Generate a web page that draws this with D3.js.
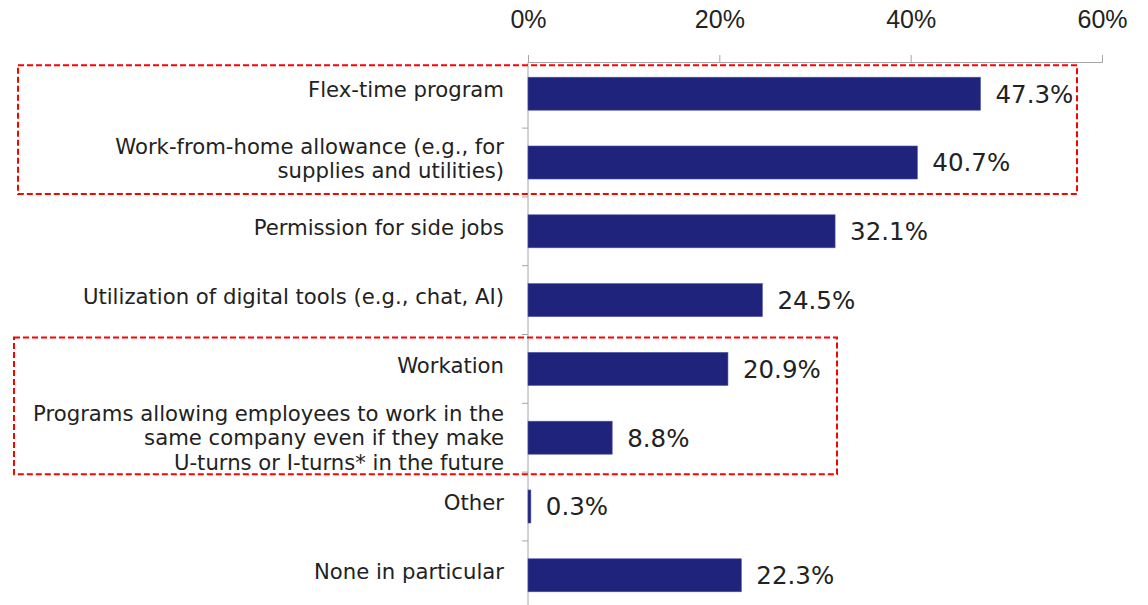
<!DOCTYPE html>
<html>
<head>
<meta charset="utf-8">
<script src="https://cdn.jsdelivr.net/npm/d3@7"></script>
<style>
  body { margin: 0; background: #fff; }
  svg { font-family: "DejaVu Sans", "Noto Sans", sans-serif; }
</style>
</head>
<body>
<div id="chart"></div>
<script>
// Data
const categories = [
  "Flex-time program",
  "Work-from-home allowance (e.g., for|supplies and utilities)",
  "Permission for side jobs",
  "Utilization of digital tools (e.g., chat, AI)",
  "Workation",
  "Programs allowing employees to work in the|same company even if they make|U-turns or I-turns* in the future",
  "Other",
  "None in particular"
];
const values = [47.3, 40.7, 32.1, 24.5, 20.9, 8.8, 0.3, 22.3];
const tickValues = [0, 20, 40, 60];
// highlighted groups (first and last row index)
const highlightGroups = [[0, 1], [4, 5]];

const width = 1148, height = 605;
const margin = { top: 62, right: 46, left: 528 };

const svg = d3.select("#chart")
  .append("svg")
  .attr("width", width)
  .attr("height", height);

const x = d3.scaleLinear()
  .domain([0, 60])
  .range([margin.left, width - margin.right]);

const y = d3.scaleBand()
  .domain(d3.range(categories.length))
  .range([60, 609])
  .paddingInner(0.52)
  .paddingOuter(0.25);

// top axis
const xAxis = svg.append("g")
  .attr("transform", `translate(0,${margin.top})`)
  .call(d3.axisTop(x).tickValues(tickValues).tickSize(7).tickPadding(27).tickFormat(d => d + "%"));
xAxis.select(".domain").attr("stroke", "#a6a6a6");
xAxis.selectAll(".tick line").attr("stroke", "#a6a6a6");
xAxis.selectAll("text").attr("fill", "#222").style("font-size", "25px");

// vertical category axis, ticks between bars
const step = y.step();
const gap = step * y.paddingInner() / 2;
svg.append("line")
  .attr("x1", x(0)).attr("x2", x(0))
  .attr("y1", margin.top).attr("y2", height)
  .attr("stroke", "#a6a6a6");
svg.selectAll(".ytick")
  .data(d3.range(1, categories.length))
  .enter()
  .append("line")
  .attr("x1", x(0) - 6).attr("x2", x(0))
  .attr("y1", i => y(i) - gap).attr("y2", i => y(i) - gap)
  .attr("stroke", "#a6a6a6");

// bars
svg.selectAll(".bar")
  .data(values)
  .enter()
  .append("rect")
  .attr("x", x(0))
  .attr("y", (d, i) => y(i))
  .attr("width", d => x(d) - x(0))
  .attr("height", y.bandwidth())
  .attr("fill", "#20237b")
  .attr("stroke", "#4f56a8")
  .attr("stroke-width", 0.6);

// value labels
svg.selectAll(".val")
  .data(values)
  .enter()
  .append("text")
  .attr("x", d => x(d) + 15)
  .attr("y", (d, i) => y(i) + y.bandwidth() / 2)
  .attr("dy", "0.36em")
  .attr("fill", "#222")
  .style("font-size", "24.5px")
  .text(d => d.toFixed(1) + "%");

// category labels (multi-line, right aligned)
const lineH = 24.5;
categories.forEach((c, i) => {
  const lines = c.split("|");
  const cy = y(i) + y.bandwidth() / 2 - (lines.length < 3 ? 4 : 0);
  const t = svg.append("text")
    .attr("text-anchor", "end")
    .attr("fill", "#222")
    .style("font-size", "21.2px");
  lines.forEach((l, k) => {
    t.append("tspan")
      .attr("x", x(0) - 24)
      .attr("y", cy + (k - (lines.length - 1) / 2) * lineH)
      .attr("dy", "0.36em")
      .text(l);
  });
});

// red dashed highlight boxes
const boxes = [
  { group: highlightGroups[0], x0: 18, x1: 1077, padTop: 12, padBottom: 15 },
  { group: highlightGroups[1], x0: 14, x1: 837, padTop: 15, padBottom: 20 }
];
boxes.forEach(b => {
  const top = y(b.group[0]) - b.padTop;
  const bottom = y(b.group[1]) + y.bandwidth() + b.padBottom;
  svg.append("rect")
    .attr("x", b.x0)
    .attr("y", top)
    .attr("width", b.x1 - b.x0)
    .attr("height", bottom - top)
    .attr("fill", "none")
    .attr("stroke", "#ff0000")
    .attr("stroke-width", 2)
    .attr("stroke-dasharray", "6,3");
});
</script>
</body>
</html>
